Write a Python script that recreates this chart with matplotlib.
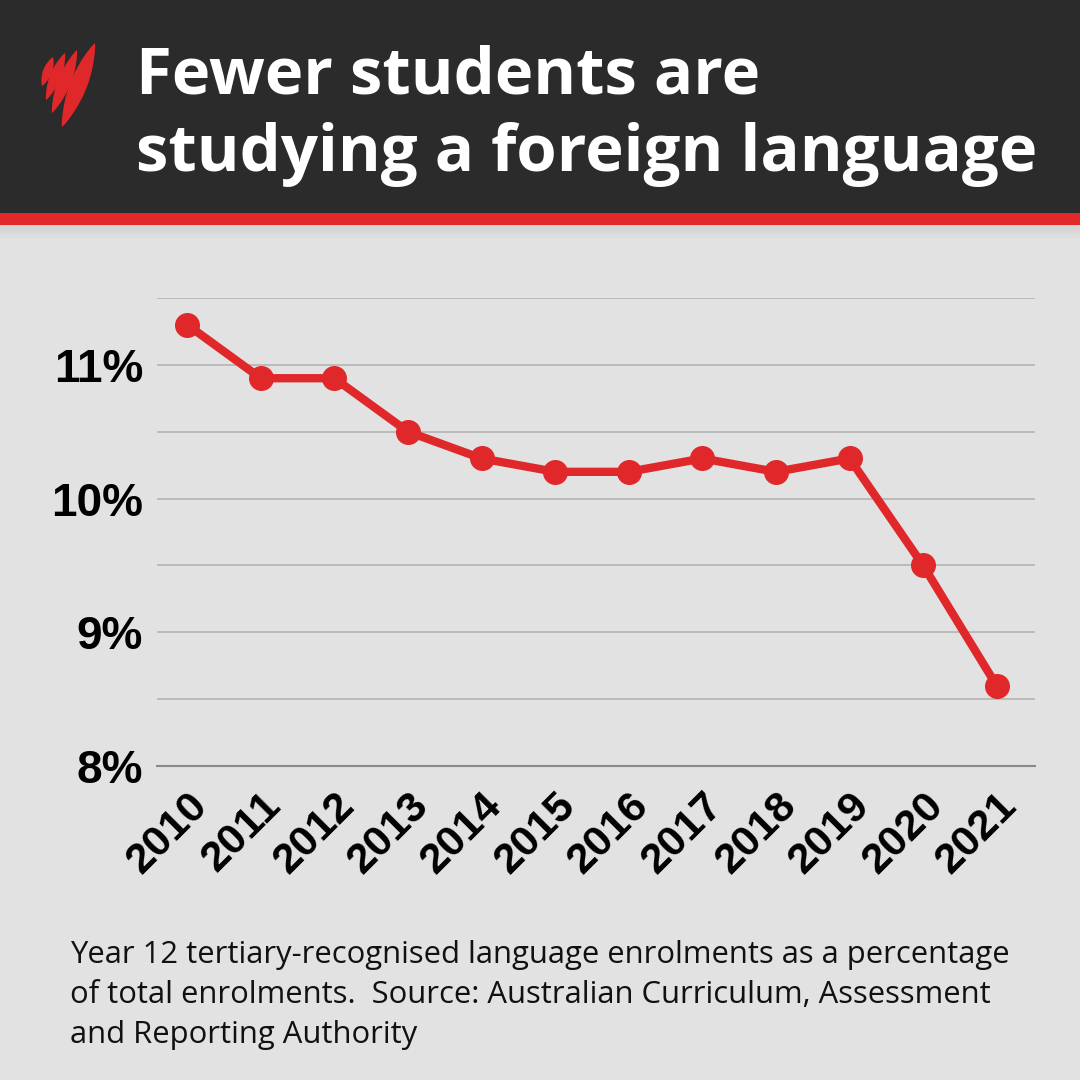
import matplotlib
matplotlib.use('Agg')
import matplotlib.pyplot as plt
from matplotlib.patches import Rectangle, Polygon
import numpy as np

# data
years = ['2010', '2011', '2012', '2013', '2014', '2015',
         '2016', '2017', '2018', '2019', '2020', '2021']
share = [11.3, 10.9, 10.9, 10.5, 10.3, 10.2, 10.2, 10.3, 10.2, 10.3, 9.5, 8.6]
y_ticks = [8, 9, 10, 11]
y_ticklabels = ['8%', '9%', '10%', '11%']

title_lines = ['Fewer students are', 'studying a foreign language']
caption_lines = ['Year 12 tertiary-recognised language enrolments as a percentage',
                 'of total enrolments.  Source: Australian Curriculum, Assessment',
                 'and Reporting Authority']

RED = '#e0282a'
DARK = '#2b2b2b'
BG = '#e2e2e2'

W = H = 1080
fig = plt.figure(figsize=(10.8, 10.8), dpi=100)
fig.patch.set_facecolor(BG)


def px(x, y):
    # pixel position (from top-left) -> figure fraction
    return (x / W, 1 - y / H)


# header band + red stripe + soft shadow
fig.patches.append(Rectangle((0, 1 - 213 / H), 1, 213 / H, transform=fig.transFigure,
                             facecolor=DARK, edgecolor='none', zorder=0))
fig.patches.append(Rectangle((0, 1 - 225 / H), 1, 12 / H, transform=fig.transFigure,
                             facecolor=RED, edgecolor='none', zorder=1))
for i in range(14):
    a = 0.18 * (1 - i / 14)
    fig.patches.append(Rectangle((0, 1 - (226 + i) / H), 1, 1 / H, transform=fig.transFigure,
                                 facecolor='#888888', alpha=a, edgecolor='none', zorder=0))

# logo: overlapping pointed leaves
leaves = [((53, 57), (42, 86), 9),
          ((65, 53), (46, 100), 11),
          ((77, 50), (52, 113), 13),
          ((95, 43), (62, 127), 17)]
for (tx, ty), (bx, by), w in leaves:
    t = np.linspace(0, 1, 30)
    cx = tx + (bx - tx) * t
    cy = ty + (by - ty) * t
    L = np.hypot(bx - tx, by - ty)
    nx, ny = (by - ty) / L, -(bx - tx) / L
    half = 0.5 * w * np.sin(np.pi * t) ** 0.8
    pts = [px(a + nx * h, b + ny * h) for a, b, h in zip(cx, cy, half)]
    pts += [px(a - nx * h, b - ny * h) for a, b, h in zip(cx[::-1], cy[::-1], half[::-1])]
    fig.patches.append(Polygon(pts, closed=True, transform=fig.transFigure,
                               facecolor=RED, edgecolor='none', zorder=2))

for line, base in zip(title_lines, [94, 171]):
    fig.text(136 / W, 1 - base / H, line, color='white', fontsize=47, fontweight='bold',
             family='Open Sans', ha='left', va='baseline')

# chart
ax = fig.add_axes([157 / W, 1 - 766 / H, (1035 - 157) / W, (766 - 298) / H])
ax.set_facecolor(BG)
x = np.arange(len(years))
ax.plot(x, share, color=RED, lw=6, marker='o', ms=17, solid_capstyle='round', zorder=3)
ax.set_xlim(-0.41, len(years) - 1 + 0.52)
ax.set_ylim(8, 11.5)
ax.set_yticks(np.arange(8, 11.51, 0.5), minor=True)
ax.set_yticks(y_ticks)
ax.set_yticklabels(y_ticklabels)
ax.grid(axis='y', which='both', color='#b4b4b4', lw=1.2)
ax.set_axisbelow(True)
for s in ['top', 'right', 'left']:
    ax.spines[s].set_visible(False)
ax.spines['bottom'].set_color('#8a8a8a')
ax.spines['bottom'].set_linewidth(1.5)
ax.tick_params(axis='both', which='both', length=0)
ax.tick_params(axis='y', pad=10)
ax.set_xticks(x)
ax.set_xticklabels(years, rotation=45, ha='right', rotation_mode='anchor')
ax.tick_params(axis='x', pad=14)
for lab in ax.get_yticklabels() + ax.get_xticklabels():
    lab.set_family('Liberation Sans')
    lab.set_fontweight('bold')
    lab.set_fontsize(31)
    lab.set_color('black')
for lab in ax.get_yticklabels():
    lab.set_fontsize(33)

for line, base in zip(caption_lines, [963, 1003, 1043]):
    fig.text(70 / W, 1 - base / H, line, color='#111111', fontsize=22.3,
             family='Open Sans', ha='left', va='baseline')

fig.savefig('out.png', dpi=100, facecolor=fig.get_facecolor())
